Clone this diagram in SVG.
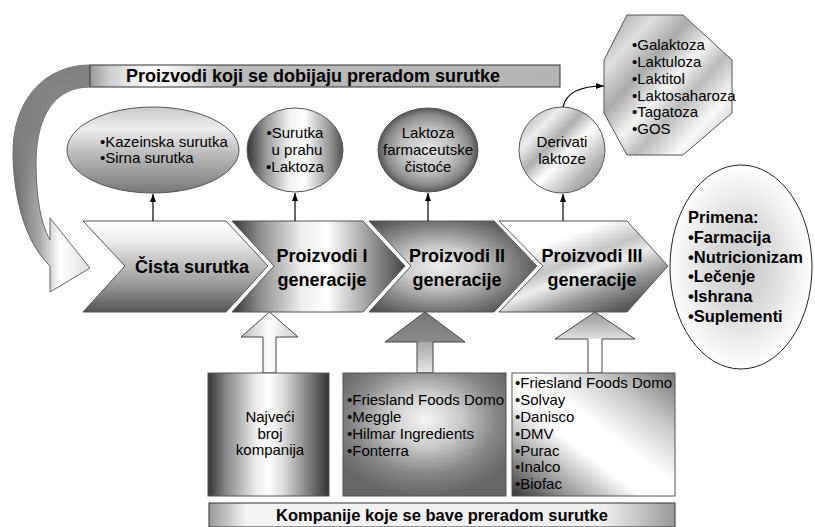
<svg xmlns="http://www.w3.org/2000/svg" width="815" height="527" viewBox="0 0 815 527">
  <defs>
    <style>
      text { font-family: "Liberation Sans", Arial, sans-serif; fill: #000; }
      .b { font-weight: bold; }
      .t15 { font-size: 15px; }
      .t18 { font-size: 18px; font-weight: bold; }
      .edge { stroke: #555; stroke-width: 1; }
      .conn { stroke: #000; stroke-width: 1.2; fill: none; }
    </style>
    <marker id="tip" viewBox="0 0 8 6" refX="8" refY="3" markerWidth="8" markerHeight="6" markerUnits="userSpaceOnUse" orient="auto">
      <path d="M0,0 L8,3 L0,6 z" fill="#000"/>
    </marker>
    <!-- curved return arrow -->
    <linearGradient id="gCurveH" gradientUnits="userSpaceOnUse" x1="12" y1="0" x2="92" y2="0">
      <stop offset="0" stop-color="#666"/>
      <stop offset="0.35" stop-color="#aaa"/>
      <stop offset="0.6" stop-color="#fff"/>
      <stop offset="1" stop-color="#ddd"/>
    </linearGradient>
    <linearGradient id="gCurveV" gradientUnits="userSpaceOnUse" x1="0" y1="65" x2="0" y2="200">
      <stop offset="0" stop-color="#808080" stop-opacity="1"/>
      <stop offset="0.5" stop-color="#808080" stop-opacity="0.9"/>
      <stop offset="1" stop-color="#808080" stop-opacity="0"/>
    </linearGradient>
    <!-- banner -->
    <linearGradient id="gBanner" x1="0" y1="0" x2="1" y2="0">
      <stop offset="0" stop-color="#999"/>
      <stop offset="0.04" stop-color="#ccc"/>
      <stop offset="0.08" stop-color="#e6e6e6"/>
      <stop offset="0.14" stop-color="#fff"/>
      <stop offset="0.22" stop-color="#ddd"/>
      <stop offset="0.27" stop-color="#bbb"/>
      <stop offset="1" stop-color="#b4b4b4"/>
    </linearGradient>
    <!-- ellipses -->
    <linearGradient id="gEll1" x1="0" y1="0" x2="0" y2="1">
      <stop offset="0" stop-color="#c8c8c8"/>
      <stop offset="0.25" stop-color="#eee"/>
      <stop offset="0.55" stop-color="#bbb"/>
      <stop offset="1" stop-color="#777"/>
    </linearGradient>
    <linearGradient id="gEll2" x1="0" y1="0" x2="1" y2="0">
      <stop offset="0" stop-color="#333"/>
      <stop offset="0.2" stop-color="#999"/>
      <stop offset="0.45" stop-color="#f4f4f4"/>
      <stop offset="0.6" stop-color="#fff"/>
      <stop offset="0.85" stop-color="#999"/>
      <stop offset="1" stop-color="#555"/>
    </linearGradient>
    <radialGradient id="gEll3" cx="0.5" cy="0.5" r="0.5">
      <stop offset="0" stop-color="#e6e6e6"/>
      <stop offset="0.55" stop-color="#bbb"/>
      <stop offset="0.85" stop-color="#888"/>
      <stop offset="1" stop-color="#555"/>
    </radialGradient>
    <linearGradient id="gCirc4" x1="0" y1="0" x2="1" y2="1">
      <stop offset="0" stop-color="#999"/>
      <stop offset="0.25" stop-color="#eee"/>
      <stop offset="0.4" stop-color="#b0b0b0"/>
      <stop offset="0.55" stop-color="#fff"/>
      <stop offset="0.75" stop-color="#bbb"/>
      <stop offset="1" stop-color="#777"/>
    </linearGradient>
    <linearGradient id="gOct" x1="0" y1="0" x2="1" y2="1">
      <stop offset="0" stop-color="#999"/>
      <stop offset="0.2" stop-color="#e0e0e0"/>
      <stop offset="0.35" stop-color="#aaa"/>
      <stop offset="0.5" stop-color="#f4f4f4"/>
      <stop offset="0.62" stop-color="#bbb"/>
      <stop offset="0.78" stop-color="#fafafa"/>
      <stop offset="0.9" stop-color="#c8c8c8"/>
      <stop offset="1" stop-color="#999"/>
    </linearGradient>
    <radialGradient id="gUse" cx="0.5" cy="0.5" r="0.5">
      <stop offset="0" stop-color="#c8c8c8"/>
      <stop offset="0.5" stop-color="#ddd"/>
      <stop offset="0.8" stop-color="#f2f2f2"/>
      <stop offset="1" stop-color="#fff"/>
    </radialGradient>
    <!-- chevrons -->
    <linearGradient id="gCh1" x1="0" y1="0" x2="0" y2="1">
      <stop offset="0" stop-color="#fff"/>
      <stop offset="0.2" stop-color="#f0f0f0"/>
      <stop offset="0.4" stop-color="#ccc"/>
      <stop offset="0.7" stop-color="#999"/>
      <stop offset="1" stop-color="#555"/>
    </linearGradient>
    <linearGradient id="gCh2" x1="0" y1="0" x2="1" y2="0">
      <stop offset="0" stop-color="#333"/>
      <stop offset="0.15" stop-color="#888"/>
      <stop offset="0.4" stop-color="#eee"/>
      <stop offset="0.55" stop-color="#fff"/>
      <stop offset="0.8" stop-color="#999"/>
      <stop offset="1" stop-color="#444"/>
    </linearGradient>
    <radialGradient id="gCh3" cx="0.42" cy="0.5" r="0.6">
      <stop offset="0" stop-color="#eee"/>
      <stop offset="0.35" stop-color="#ccc"/>
      <stop offset="0.7" stop-color="#888"/>
      <stop offset="1" stop-color="#555"/>
    </radialGradient>
    <linearGradient id="gCh4" x1="0" y1="0" x2="0.7" y2="1">
      <stop offset="0" stop-color="#fff"/>
      <stop offset="0.3" stop-color="#fff"/>
      <stop offset="0.5" stop-color="#c4c4c4"/>
      <stop offset="0.62" stop-color="#eee"/>
      <stop offset="0.8" stop-color="#999"/>
      <stop offset="1" stop-color="#555"/>
    </linearGradient>
    <!-- hollow arrows -->
    <linearGradient id="gUp1" x1="0" y1="0" x2="1" y2="0">
      <stop offset="0" stop-color="#bbb"/>
      <stop offset="0.5" stop-color="#fff"/>
      <stop offset="1" stop-color="#ccc"/>
    </linearGradient>
    <linearGradient id="gUp2" gradientUnits="userSpaceOnUse" x1="0" y1="312" x2="0" y2="373">
      <stop offset="0" stop-color="#777"/>
      <stop offset="0.49" stop-color="#8a8a8a"/>
      <stop offset="0.5" stop-color="#aaa"/>
      <stop offset="1" stop-color="#e6e6e6"/>
    </linearGradient>
    <linearGradient id="gUp3" gradientUnits="userSpaceOnUse" x1="0" y1="312" x2="0" y2="373">
      <stop offset="0" stop-color="#999"/>
      <stop offset="0.43" stop-color="#ddd"/>
      <stop offset="0.45" stop-color="#fff"/>
      <stop offset="1" stop-color="#fff"/>
    </linearGradient>
    <!-- company boxes -->
    <linearGradient id="gBox1" x1="0" y1="0" x2="1" y2="0">
      <stop offset="0" stop-color="#333"/>
      <stop offset="0.15" stop-color="#888"/>
      <stop offset="0.4" stop-color="#eee"/>
      <stop offset="0.5" stop-color="#fff"/>
      <stop offset="0.62" stop-color="#ddd"/>
      <stop offset="0.85" stop-color="#777"/>
      <stop offset="1" stop-color="#333"/>
    </linearGradient>
    <radialGradient id="gBox2" cx="0.5" cy="0.38" r="0.62">
      <stop offset="0" stop-color="#f6f6f6"/>
      <stop offset="0.35" stop-color="#ccc"/>
      <stop offset="0.7" stop-color="#888"/>
      <stop offset="1" stop-color="#666"/>
    </radialGradient>
    <linearGradient id="gBox3" x1="0" y1="1" x2="1" y2="0">
      <stop offset="0" stop-color="#333"/>
      <stop offset="0.15" stop-color="#888"/>
      <stop offset="0.4" stop-color="#fff"/>
      <stop offset="0.55" stop-color="#fff"/>
      <stop offset="0.75" stop-color="#ccc"/>
      <stop offset="1" stop-color="#777"/>
    </linearGradient>
    <linearGradient id="gLabel" x1="0" y1="0" x2="1" y2="0">
      <stop offset="0" stop-color="#999"/>
      <stop offset="0.08" stop-color="#f4f4f4"/>
      <stop offset="0.85" stop-color="#eee"/>
      <stop offset="1" stop-color="#999"/>
    </linearGradient>
  </defs>

  <rect width="815" height="527" fill="#fff"/>

  <!-- return arrow from the banner back into the first stage -->
  <g id="return-arrow">
    <path id="return-shape" d="M 90 65 C 45 65, 12 100, 13 155 C 14 205, 28 245, 50 266 L 50 292 L 90 268 L 50 218 L 50 240 C 40 222, 36 195, 36 160 C 37 115, 55 87, 90 87 Z" fill="url(#gCurveH)" stroke="#666" stroke-width="1"/>
    <path d="M 90 65 C 45 65, 12 100, 13 155 C 14 205, 28 245, 50 266 L 50 240 C 40 222, 36 195, 36 160 C 37 115, 55 87, 90 87 Z" fill="url(#gCurveV)"/>
  </g>

  <g id="banner">
    <rect x="90" y="65" width="470" height="22" fill="url(#gBanner)" stroke="#333" stroke-width="1"/>
    <text x="126" y="82" class="b" font-size="18">Proizvodi koji se dobijaju preradom surutke</text>
  </g>

  <!-- product nodes -->
  <g id="node-kazeinska">
    <ellipse cx="153" cy="150" rx="86" ry="43" fill="url(#gEll1)" class="edge"/>
    <text x="100" y="147" class="t15">•Kazeinska surutka</text>
    <text x="100" y="163" class="t15">•Sirna surutka</text>
  </g>
  <g id="node-prah">
    <ellipse cx="295" cy="150" rx="48" ry="42" fill="url(#gEll2)" class="edge"/>
    <text x="295" y="138" class="t15" text-anchor="middle">•Surutka</text>
    <text x="297" y="155" class="t15" text-anchor="middle">u prahu</text>
    <text x="295" y="172" class="t15" text-anchor="middle">•Laktoza</text>
  </g>
  <g id="node-farm">
    <ellipse cx="428" cy="150" rx="50" ry="42" fill="url(#gEll3)" class="edge"/>
    <text x="428" y="138" class="t15" text-anchor="middle">Laktoza</text>
    <text x="428" y="155" class="t15" text-anchor="middle">farmaceutske</text>
    <text x="428" y="172" class="t15" text-anchor="middle">čistoće</text>
  </g>
  <g id="node-derivati">
    <ellipse cx="562" cy="150" rx="43" ry="43" fill="url(#gCirc4)" class="edge"/>
    <text x="562" y="147" class="t15" text-anchor="middle">Derivati</text>
    <text x="562" y="164" class="t15" text-anchor="middle">laktoze</text>
  </g>
  <g id="node-derivati-list">
    <polygon points="627,15 683,15 732,60 732,113 683,155 627,155 604,113 604,60" fill="url(#gOct)" class="edge"/>
    <text x="632" y="50" class="t15">•Galaktoza</text>
    <text x="632" y="67" class="t15">•Laktuloza</text>
    <text x="632" y="84" class="t15">•Laktitol</text>
    <text x="632" y="101" class="t15">•Laktosaharoza</text>
    <text x="632" y="117" class="t15">•Tagatoza</text>
    <text x="632" y="134" class="t15">•GOS</text>
  </g>

  <!-- company support arrows -->
  <g id="support-arrows">
    <polygon points="269.5,312 298,337 276,337 276,373 263,373 263,337 241,337" fill="url(#gUp1)" stroke="#444" stroke-width="1"/>
    <polygon points="425,312 465,342 433,342 433,373 417,373 417,342 385,342" fill="url(#gUp2)" stroke="#444" stroke-width="1"/>
    <polygon points="595,312 635,339 602,339 602,373 588,373 588,339 555,339" fill="url(#gUp3)" stroke="#444" stroke-width="1"/>
  </g>

  <!-- process stages -->
  <g id="stage-cista">
    <polygon points="83,221 226,221 268,266 226,312 83,312 125,266" fill="url(#gCh1)" class="edge"/>
    <text x="192" y="273" class="t18" text-anchor="middle">Čista surutka</text>
  </g>
  <g id="stage-1">
    <polygon points="232,221 363,221 405,266 363,312 232,312 274,266" fill="url(#gCh2)" class="edge"/>
    <text x="322" y="262" class="t18" text-anchor="middle">Proizvodi I</text>
    <text x="322" y="286" class="t18" text-anchor="middle">generacije</text>
  </g>
  <g id="stage-2">
    <polygon points="369,221 494,221 537,266 494,312 369,312 411,266" fill="url(#gCh3)" class="edge"/>
    <text x="457" y="262" class="t18" text-anchor="middle">Proizvodi II</text>
    <text x="457" y="286" class="t18" text-anchor="middle">generacije</text>
  </g>
  <g id="stage-3">
    <polygon points="499,221 627,221 668,266 627,312 499,312 543,266" fill="url(#gCh4)" class="edge"/>
    <text x="592" y="262" class="t18" text-anchor="middle">Proizvodi III</text>
    <text x="592" y="286" class="t18" text-anchor="middle">generacije</text>
  </g>

  <g id="node-primena">
    <ellipse cx="741" cy="267" rx="71" ry="102" fill="url(#gUse)" stroke="#222" stroke-width="1"/>
    <text x="688" y="223" class="b" font-size="16.5">Primena:</text>
    <text x="688" y="243" class="b" font-size="16.5">•Farmacija</text>
    <text x="688" y="263" class="b" font-size="16.5">•Nutricionizam</text>
    <text x="688" y="282" class="b" font-size="16.5">•Lečenje</text>
    <text x="688" y="302" class="b" font-size="16.5">•Ishrana</text>
    <text x="688" y="322" class="b" font-size="16.5">•Suplementi</text>
  </g>

  <!-- company boxes -->
  <g id="box-najveci">
    <rect x="208" y="373" width="121" height="123" fill="url(#gBox1)" class="edge"/>
    <text x="270" y="422" class="t15" text-anchor="middle">Najveći</text>
    <text x="270" y="439" class="t15" text-anchor="middle">broj</text>
    <text x="270" y="455" class="t15" text-anchor="middle">kompanija</text>
  </g>
  <g id="box-gen2">
    <rect x="343" y="373" width="163" height="123" fill="url(#gBox2)" class="edge"/>
    <text x="347" y="405" class="t15">•Friesland Foods Domo</text>
    <text x="347" y="422" class="t15">•Meggle</text>
    <text x="347" y="439" class="t15">•Hilmar Ingredients</text>
    <text x="347" y="456" class="t15">•Fonterra</text>
  </g>
  <g id="box-gen3">
    <rect x="512" y="373" width="163" height="123" fill="url(#gBox3)" class="edge"/>
    <text x="515" y="388" class="t15">•Friesland Foods Domo</text>
    <text x="515" y="405" class="t15">•Solvay</text>
    <text x="515" y="422" class="t15">•Danisco</text>
    <text x="515" y="439" class="t15">•DMV</text>
    <text x="515" y="456" class="t15">•Purac</text>
    <text x="515" y="472" class="t15">•Inalco</text>
    <text x="515" y="489" class="t15">•Biofac</text>
  </g>

  <g id="label-kompanije">
    <rect x="209" y="503" width="466" height="24" fill="url(#gLabel)" stroke="#333" stroke-width="1"/>
    <text x="442" y="521" class="b" font-size="16.5" text-anchor="middle">Kompanije koje se bave preradom surutke</text>
  </g>

  <!-- connectors -->
  <g id="connectors">
    <line x1="153" y1="221" x2="153" y2="194" class="conn" marker-end="url(#tip)"/>
    <line x1="295" y1="221" x2="295" y2="193" class="conn" marker-end="url(#tip)"/>
    <line x1="428" y1="221" x2="428" y2="193" class="conn" marker-end="url(#tip)"/>
    <line x1="563" y1="221" x2="563" y2="194" class="conn" marker-end="url(#tip)"/>
    <path d="M 563 107 C 566 93, 580 86, 604 86" class="conn" marker-end="url(#tip)"/>
  </g>
</svg>
